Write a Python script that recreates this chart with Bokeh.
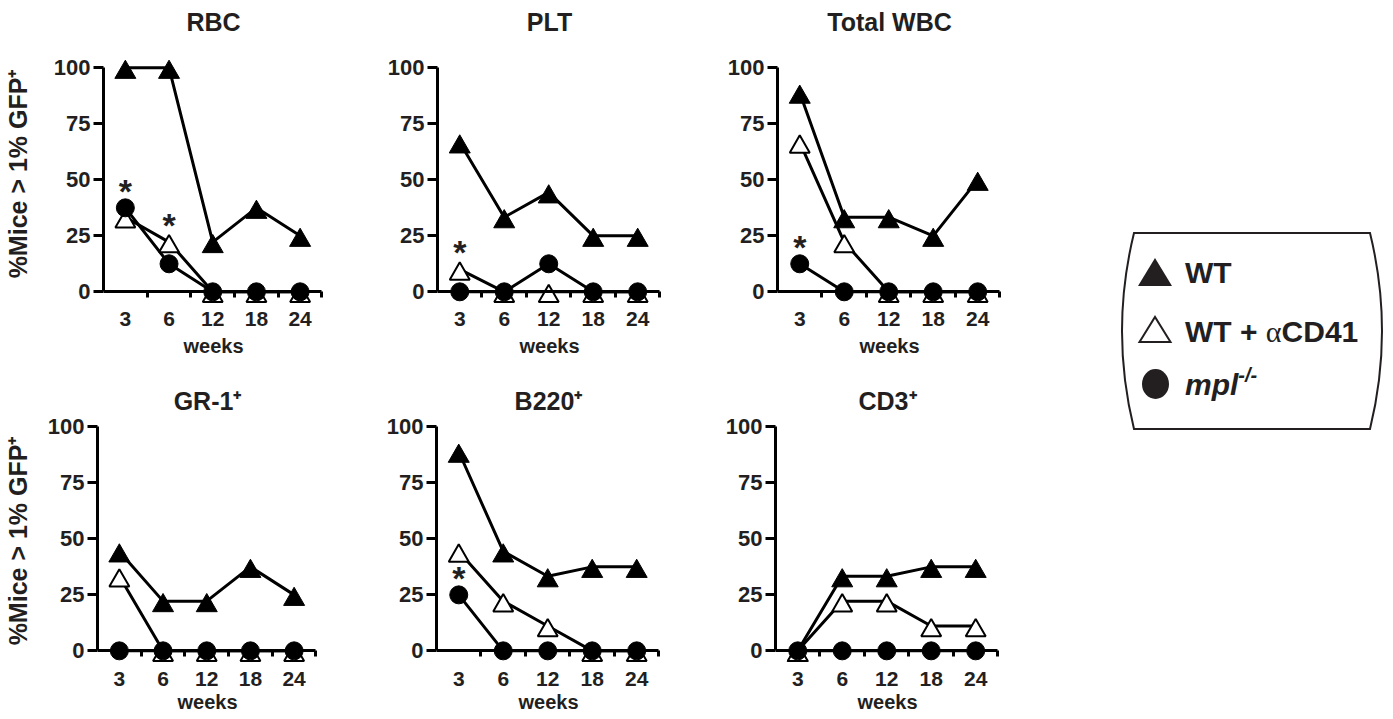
from bokeh.plotting import figure
from bokeh.models import Range1d, LinearAxis, FixedTicker, Div, ColumnDataSource
from bokeh.layouts import row, column
from bokeh.transform import dodge
from bokeh.core.properties import value
from bokeh.embed import file_html
from bokeh.resources import INLINE

# ---------------- data ----------------
weeks = ["3", "6", "12", "18", "24"]

rbc_wt = [100.0, 100.0, 22.2, 37.5, 25.0]
rbc_cd41 = [33.3, 22.2, 0, 0, 0]
rbc_mpl = [37.5, 12.5, 0, 0, 0]

plt_wt = [66.7, 33.3, 44.4, 25.0, 25.0]
plt_cd41 = [10.0, 0, 0, 0, 0]
plt_mpl = [0, 0, 12.5, 0, 0]

wbc_wt = [88.9, 33.3, 33.3, 25.0, 50.0]
wbc_cd41 = [66.7, 22.2, 0, 0, 0]
wbc_mpl = [12.5, 0, 0, 0, 0]

gr1_wt = [44.4, 22.2, 22.2, 37.5, 25.0]
gr1_cd41 = [33.3, 0, 0, 0, 0]
gr1_mpl = [0, 0, 0, 0, 0]

b220_wt = [88.9, 44.4, 33.3, 37.5, 37.5]
b220_cd41 = [44.4, 22.2, 11.1, 0, 0]
b220_mpl = [25.0, 0, 0, 0, 0]

cd3_wt = [0, 33.3, 33.3, 37.5, 37.5]
cd3_cd41 = [0, 22.2, 22.2, 11.1, 11.1]
cd3_mpl = [0, 0, 0, 0, 0]

panel_titles = ["RBC", "PLT", "Total WBC", "GR-1\u207a", "B220\u207a", "CD3\u207a"]
y_ticks = [0, 25, 50, 75, 100]
y_label = "%Mice > 1% GFP\u207a"
x_label = "weeks"

# significance stars: panel, week, series index (0 WT, 1 WT+aCD41, 2 mpl)
star_panels = ["RBC", "RBC", "PLT", "Total WBC", "B220\u207a"]
star_weeks = ["3", "6", "3", "3", "3"]
star_series = [2, 1, 1, 2, 2]

# ---------------- styling ----------------
TEXT = "#231f20"
FONT = "Liberation Sans"
FIG_W = 339
FRAME_W = 224

panel_series = {
    "RBC": (rbc_wt, rbc_cd41, rbc_mpl),
    "PLT": (plt_wt, plt_cd41, plt_mpl),
    "Total WBC": (wbc_wt, wbc_cd41, wbc_mpl),
    "GR-1\u207a": (gr1_wt, gr1_cd41, gr1_mpl),
    "B220\u207a": (b220_wt, b220_cd41, b220_mpl),
    "CD3\u207a": (cd3_wt, cd3_cd41, cd3_mpl),
}

xpos = [i + 1 for i in range(len(weeks))]          # category centres
bounds = [i + 1.5 for i in range(len(weeks))]      # category boundaries


def make_panel(title, left, height, top, bottom, y_lo, y_hi,
               show_ylabel, ylabel_standoff, ticks_standoff, weeks_standoff):
    p = figure(x_range=Range1d(0.5, len(weeks) + 0.535), y_range=Range1d(y_lo, y_hi),
               width=FIG_W, height=height,
               min_border_left=left, min_border_right=FIG_W - FRAME_W - left,
               min_border_top=top, min_border_bottom=bottom,
               x_axis_location=None, y_axis_location="left",
               toolbar_location=None, output_backend="svg",
               outline_line_color=None, title=title)
    p.grid.visible = False
    p.title.align = "center"
    p.title.text_font = FONT
    p.title.text_font_size = "25px"
    p.title.text_font_style = "bold"
    p.title.text_color = TEXT
    p.title.standoff = 10

    ya = p.yaxis[0]
    ya.ticker = FixedTicker(ticks=y_ticks)
    ya.bounds = (0, 100)
    ya.axis_line_width = 3
    ya.axis_line_color = "black"
    ya.major_tick_line_width = 3
    ya.major_tick_line_color = "black"
    ya.major_tick_out = 10
    ya.major_tick_in = 0
    ya.minor_tick_line_color = None
    ya.major_label_text_font = FONT
    ya.major_label_text_font_size = "22px"
    ya.major_label_text_font_style = "bold"
    ya.major_label_text_color = TEXT
    ya.major_label_standoff = 3
    if show_ylabel:
        ya.axis_label = y_label
        ya.axis_label_text_font = FONT
        ya.axis_label_text_font_size = "25px"
        ya.axis_label_text_font_style = "bold"
        ya.axis_label_text_color = TEXT
        ya.axis_label_standoff = ylabel_standoff

    # x axis line at y = 0 with boundary ticks
    base = LinearAxis(fixed_location=0, bounds=(0.5, len(weeks) + 0.5),
                      ticker=FixedTicker(ticks=[], minor_ticks=bounds),
                      axis_line_width=3, axis_line_color="black",
                      major_tick_line_color=None, major_tick_out=0, major_tick_in=0,
                      minor_tick_line_width=3, minor_tick_line_color="black",
                      minor_tick_out=6, minor_tick_in=0,
                      major_label_text_font_size="0px", major_label_standoff=0,
                      axis_label_standoff=0)
    p.add_layout(base, "below")
    # category labels + "weeks"
    lab = LinearAxis(ticker=FixedTicker(ticks=xpos),
                     major_label_overrides={x: w for x, w in zip(xpos, weeks)},
                     axis_line_color=None, major_tick_line_color=None,
                     minor_tick_line_color=None, major_tick_out=0, major_tick_in=0,
                     minor_tick_out=0, minor_tick_in=0,
                     major_label_text_font=FONT, major_label_text_font_size="21px",
                     major_label_text_font_style="bold", major_label_text_color=TEXT,
                     major_label_standoff=ticks_standoff,
                     axis_label=x_label, axis_label_text_font=FONT,
                     axis_label_text_font_size="20px", axis_label_text_font_style="bold",
                     axis_label_text_color=TEXT, axis_label_standoff=weeks_standoff)
    p.add_layout(lab, "below")

    wt, cd41, mpl = panel_series[title]
    srcs = [ColumnDataSource(dict(x=xpos, y=vals)) for vals in (wt, cd41, mpl)]
    for s in srcs:
        p.line("x", "y", source=s, line_width=3, line_color="black")
    p.scatter(x="x", y=dodge("y", -2.0, range=p.y_range), source=srcs[0], marker="triangle",
              size=21, fill_color="black", line_color="black", line_width=1)
    p.scatter(x="x", y=dodge("y", -2.0, range=p.y_range), source=srcs[1], marker="triangle",
              size=20, fill_color="white", line_color="black", line_width=2)
    p.scatter(x="x", y="y", source=srcs[2], marker="circle",
              size=18, fill_color="black", line_color="black", line_width=1)

    sx, sy = [], []
    for sp, sw, ss in zip(star_panels, star_weeks, star_series):
        if sp == title:
            i = weeks.index(sw)
            sx.append(xpos[i])
            sy.append(panel_series[title][ss][i])
    if sx:
        p.text(x=sx, y=sy, text=["*"] * len(sx), text_align="center",
               text_baseline="alphabetic", y_offset=-17,
               text_font=value(FONT), text_font_size="34px",
               text_font_style="bold", text_color=TEXT)
    return p


top_lefts = [99, 98, 99]
bot_lefts = [93, 97, 97]
# row 1: 40 + 267 + 60 = 367 ; row 2: 52 + 243 + 57 = 352
top_row = [make_panel(panel_titles[i], top_lefts[i], 367, 40, 60, -7, 112.2,
                      i == 0, 19, 4, 6) for i in range(3)]
bot_row = [make_panel(panel_titles[3 + i], bot_lefts[i], 352, 52, 57, -5.2, 103.3,
                      i == 0, 13, 9, 2) for i in range(3)]

legend_html = (
    '<div style="position:relative;width:264px;height:198px;overflow:visible;'
    "font-family:'Liberation Sans',Arial,sans-serif;font-weight:bold;font-size:30px;"
    'color:#231f20;">'
    '<svg style="position:absolute;left:0;top:0;overflow:visible" width="264" height="198">'
    '<path d="M14,1 L250,1 Q274,99 250,197 L14,197 Q-10,99 14,1 Z" fill="white" '
    'stroke="#231f20" stroke-width="2"/>'
    '<polygon points="18,54 52,54 35,26" fill="#231f20"/>'
    '<polygon points="19.5,110 50.5,110 35,85" fill="white" stroke="#231f20" stroke-width="2"/>'
    '<ellipse cx="35.5" cy="152" rx="13.5" ry="15" fill="#231f20"/>'
    '</svg>'
    '<span style="position:absolute;left:65px;top:26px;line-height:30px;white-space:nowrap">WT</span>'
    '<span style="position:absolute;left:65px;top:85px;line-height:30px;white-space:nowrap">WT + '
    "<span style=\"font-family:'Liberation Serif',serif;font-weight:normal\">\u03b1</span>CD41</span>"
    '<span style="position:absolute;left:65px;top:138px;line-height:30px;white-space:nowrap">'
    '<i>mpl</i><span style="position:relative;top:-13px;font-size:20px;font-style:italic">-/-</span></span>'
    '</div>'
)
legend = Div(text=legend_html, width=264, height=198, margin=(232, 0, 0, 103))

layout = row(column(row(*top_row), row(*bot_row)), legend)

open("out.html", "w").write(file_html(layout, INLINE))
